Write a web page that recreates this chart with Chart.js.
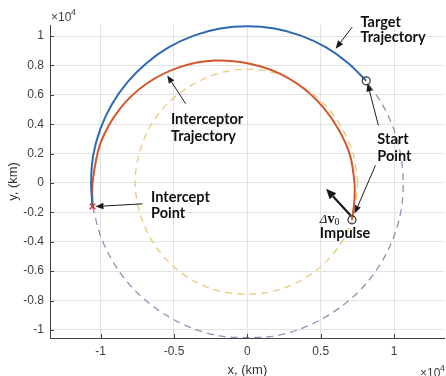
<!DOCTYPE html>
<html>
<head>
<meta charset="utf-8">
<script src="https://cdn.jsdelivr.net/npm/chart.js@4.4.0/dist/chart.umd.min.js"></script>
<style>
  html, body { margin: 0; padding: 0; background: #fff; overflow: hidden; }
  #wrap { width: 450px; height: 376px; }
</style>
</head>
<body>
<div id="wrap"><canvas id="orbit" width="450" height="376"></canvas></div>
<script>
// orbit intercept plot, all values in units of 1e4 km

const xTicks = [-1, -0.5, 0, 0.5, 1];
const xTickLabels = ["-1", "-0.5", "0", "0.5", "1"];
const yTicks = [-1, -0.8, -0.6, -0.4, -0.2, 0, 0.2, 0.4, 0.6, 0.8, 1];
const yTickLabels = ["-1", "-0.8", "-0.6", "-0.4", "-0.2", "0", "0.2", "0.4", "0.6", "0.8", "1"];

// target trajectory (solid blue), start point -> intercept point
const targetArc = [
  [0.81, 0.695], [0.686, 0.817], [0.534, 0.924], [0.365, 1.003], [0.185, 1.051],
  [0, 1.067], [-0.185, 1.051], [-0.365, 1.003], [-0.534, 0.924], [-0.686, 0.817],
  [-0.817, 0.686], [-0.924, 0.534], [-1.003, 0.365], [-1.051, 0.185], [-1.065, 0],
  [-1.055, -0.16]
];

// rest of the target orbit (dashed purple)
const targetOrbitRest = [
  [-1.055, -0.16], [-1.0, -0.362], [-0.92, -0.53], [-0.812, -0.682], [-0.68, -0.81],
  [-0.528, -0.915], [-0.36, -0.994], [-0.182, -1.042], [0, -1.052], [0.182, -1.042],
  [0.36, -0.994], [0.528, -0.915], [0.68, -0.81], [0.812, -0.682], [0.92, -0.53],
  [1.0, -0.362], [1.048, -0.184], [1.062, 0], [1.046, 0.185], [0.998, 0.365],
  [0.92, 0.534], [0.81, 0.695]
];

// interceptor initial orbit (dashed yellow)
const interceptorOrbit = [
  [0.752, 0], [0.722, 0.193], [0.645, 0.373], [0.53, 0.53], [0.378, 0.655],
  [0.2, 0.745], [0, 0.775], [-0.2, 0.745], [-0.383, 0.664], [-0.542, 0.542],
  [-0.663, 0.383], [-0.738, 0.198], [-0.765, 0], [-0.734, -0.197], [-0.658, -0.38],
  [-0.537, -0.537], [-0.38, -0.658], [-0.197, -0.734], [0.02, -0.757], [0.205, -0.73],
  [0.385, -0.652], [0.54, -0.532], [0.66, -0.376], [0.73, -0.196], [0.752, 0]
];

// interceptor trajectory (solid orange), impulse point -> intercept point
const interceptorArc = [
  [0.713, -0.25], [0.729, -0.128], [0.73, 0], [0.7, 0.188], [0.624, 0.36],
  [0.516, 0.516], [0.375, 0.65], [0.202, 0.753], [0, 0.815], [-0.223, 0.833],
  [-0.456, 0.79], [-0.68, 0.68], [-0.87, 0.503], [-1.002, 0.268], [-1.055, 0],
  [-1.055, -0.16]
];

const startPoint = [[0.81, 0.695]];
const impulsePoint = [[0.713, -0.251]];
const interceptPoint = [[-1.055, -0.16]];

// callout texts and arrows, in data coordinates
const labels = [
  { text: "Target", x: 0.771, y: 1.093 },
  { text: "Trajectory", x: 0.771, y: 0.991 },
  { text: "Interceptor", x: -0.521, y: 0.433 },
  { text: "Trajectory", x: -0.521, y: 0.317 },
  { text: "Start", x: 0.886, y: 0.296 },
  { text: "Point", x: 0.886, y: 0.181 },
  { text: "Intercept", x: -0.656, y: -0.099 },
  { text: "Point", x: -0.656, y: -0.208 },
  { text: "Impulse", x: 0.494, y: -0.344 }
];
const arrows = [
  { from: [0.715, 1.061], to: [0.602, 0.914], w: 1 },
  { from: [0.893, 0.392], to: [0.819, 0.678], w: 1 },
  { from: [0.873, 0.119], to: [0.731, -0.208], w: 1 },
  { from: [-0.421, 0.54], to: [-0.546, 0.732], w: 1 },
  { from: [-0.715, -0.142], to: [-1.035, -0.16], w: 1 },
  { from: [0.704, -0.221], to: [0.537, -0.04], w: 2.2 }
];

const toXY = arr => arr.map(p => ({ x: p[0], y: p[1] }));

const TICK_FONT = "Liberation Sans, Arial, sans-serif";
const NOTE_FONT = "Lato, 'Open Sans', sans-serif";

function drawArrow(ctx, x1, y1, x2, y2, w) {
  const ang = Math.atan2(y2 - y1, x2 - x1);
  const len = w > 1.5 ? 10 : 8;
  const half = w > 1.5 ? 4.5 : 3.2;
  const bx = x2 - len * Math.cos(ang), by = y2 - len * Math.sin(ang);
  ctx.strokeStyle = "#1a1a1a";
  ctx.fillStyle = "#1a1a1a";
  ctx.lineWidth = w;
  ctx.beginPath();
  ctx.moveTo(x1, y1);
  ctx.lineTo(bx, by);
  ctx.stroke();
  ctx.beginPath();
  ctx.moveTo(x2, y2);
  ctx.lineTo(bx + half * Math.sin(ang), by - half * Math.cos(ang));
  ctx.lineTo(bx - half * Math.sin(ang), by + half * Math.cos(ang));
  ctx.closePath();
  ctx.fill();
}

const decorations = {
  id: "decorations",
  afterDraw(chart) {
    const ctx = chart.ctx;
    const xs = chart.scales.x, ys = chart.scales.y;
    const area = chart.chartArea;
    ctx.save();

    // small inward ticks, matlab style
    ctx.strokeStyle = "#404040";
    ctx.lineWidth = 1;
    ctx.beginPath();
    xTicks.forEach(v => {
      const px = Math.round(xs.getPixelForValue(v)) + 0.5;
      ctx.moveTo(px, area.bottom);
      ctx.lineTo(px, area.bottom - 4);
    });
    yTicks.forEach(v => {
      const py = Math.round(ys.getPixelForValue(v)) + 0.5;
      ctx.moveTo(area.left, py);
      ctx.lineTo(area.left + 4, py);
    });
    ctx.stroke();

    // axis titles
    ctx.fillStyle = "#333";
    ctx.font = "13px " + TICK_FONT;
    ctx.textAlign = "center";
    ctx.textBaseline = "middle";
    ctx.fillText("x, (km)", (area.left + area.right) / 2, 370);
    ctx.save();
    ctx.translate(13, (area.top + area.bottom) / 2);
    ctx.rotate(-Math.PI / 2);
    ctx.fillText("y, (km)", 0, 0);
    ctx.restore();

    // exponent labels
    ctx.textAlign = "left";
    ctx.textBaseline = "alphabetic";
    ctx.fillStyle = "#404040";
    ctx.font = "12px " + TICK_FONT;
    ctx.fillText("\u00d710", 51, 21);
    ctx.fillText("\u00d710", 420, 377);
    ctx.font = "9px " + TICK_FONT;
    ctx.fillText("4", 71, 15);
    ctx.fillText("4", 440, 371);

    // arrows
    arrows.forEach(a => {
      drawArrow(ctx,
        xs.getPixelForValue(a.from[0]), ys.getPixelForValue(a.from[1]),
        xs.getPixelForValue(a.to[0]), ys.getPixelForValue(a.to[1]), a.w);
    });

    // callout texts
    ctx.fillStyle = "#111";
    ctx.font = "bold 14.5px " + NOTE_FONT;
    ctx.textBaseline = "middle";
    labels.forEach(l => {
      ctx.fillText(l.text, xs.getPixelForValue(l.x), ys.getPixelForValue(l.y));
    });

    // delta v0
    let dx = xs.getPixelForValue(0.494);
    const dy = ys.getPixelForValue(-0.249);
    ctx.font = "italic 13px 'Liberation Serif', serif";
    ctx.fillText("\u0394", dx, dy);
    dx += ctx.measureText("\u0394").width;
    ctx.font = "bold 14px 'Liberation Serif', serif";
    ctx.fillText("v", dx, dy);
    dx += ctx.measureText("v").width;
    ctx.font = "10px 'Liberation Serif', serif";
    ctx.fillText("0", dx, dy + 3);

    ctx.restore();
  }
};

const lineSet = (data, color, width, dash, order) => ({
  data: toXY(data),
  showLine: true,
  borderColor: color,
  borderWidth: width,
  borderDash: dash,
  pointRadius: 0,
  tension: 0.33,
  fill: false,
  order: order
});

new Chart(document.getElementById("orbit"), {
  type: "scatter",
  data: {
    datasets: [
      {
        data: toXY(interceptPoint), pointStyle: "crossRot", pointRadius: 4,
        borderColor: "#e8202a", borderWidth: 1.3, order: 0
      },
      {
        data: toXY(startPoint), pointStyle: "circle", pointRadius: 4,
        borderColor: "#333", backgroundColor: "rgba(0,0,0,0)", borderWidth: 1.2, order: 1
      },
      {
        data: toXY(impulsePoint), pointStyle: "circle", pointRadius: 4,
        borderColor: "#333", backgroundColor: "rgba(0,0,0,0)", borderWidth: 1.2, order: 1
      },
      lineSet(targetArc, "#3069b3", 2, [], 2),
      lineSet(interceptorArc, "#d4572a", 2, [], 3),
      lineSet(targetOrbitRest, "#9d8bb5", 1.3, [7, 5], 4),
      lineSet(interceptorOrbit, "#ebc97c", 1.3, [7, 5], 5)
    ]
  },
  options: {
    responsive: false,
    animation: false,
    devicePixelRatio: 1,
    layout: { padding: { top: 25, right: 2, left: 0, bottom: 0 } },
    plugins: { legend: { display: false }, tooltip: { enabled: false } },
    scales: {
      x: {
        type: "linear",
        min: -1.345,
        max: 1.345,
        afterBuildTicks: s => { s.ticks = xTicks.map(v => ({ value: v })); },
        afterFit: s => { s.height = 38; },
        ticks: {
          callback: (v, i) => xTickLabels[i],
          color: "#404040",
          font: { family: TICK_FONT, size: 12 },
          padding: 6,
          maxRotation: 0,
          autoSkip: false
        },
        grid: { color: "#e2e2e2", drawTicks: false },
        border: { color: "#404040", width: 1 }
      },
      y: {
        type: "linear",
        min: -1.055,
        max: 1.075,
        afterBuildTicks: s => { s.ticks = yTicks.map(v => ({ value: v })); },
        afterFit: s => { s.width = 50; },
        ticks: {
          callback: (v, i) => yTickLabels[i],
          color: "#404040",
          font: { family: TICK_FONT, size: 12 },
          padding: 6,
          autoSkip: false
        },
        grid: { color: "#e2e2e2", drawTicks: false },
        border: { color: "#404040", width: 1 }
      }
    }
  },
  plugins: [decorations]
});
</script>
</body>
</html>
